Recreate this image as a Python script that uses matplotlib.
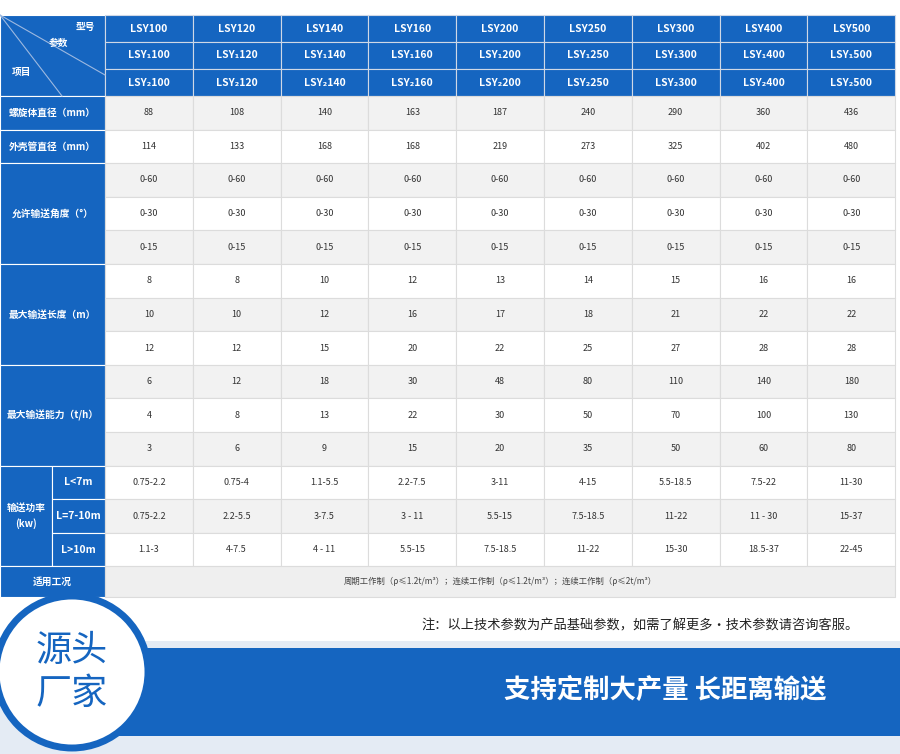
import matplotlib
matplotlib.use("Agg")
import matplotlib.pyplot as plt
from matplotlib.patches import Rectangle, Circle, Polygon

plt.rcParams['font.family'] = ['Noto Sans CJK SC', 'DejaVu Sans']

models = ["100", "120", "140", "160", "200", "250", "300", "400", "500"]
model_prefixes = ["LSY", "LSY₁", "LSY₂"]
screw_dia = ["88", "108", "140", "163", "187", "240", "290", "360", "436"]
shell_dia = ["114", "133", "168", "168", "219", "273", "325", "402", "480"]
angles = ["0-60", "0-30", "0-15"]
max_len = [["8", "8", "10", "12", "13", "14", "15", "16", "16"],
           ["10", "10", "12", "16", "17", "18", "21", "22", "22"],
           ["12", "12", "15", "20", "22", "25", "27", "28", "28"]]
capacity = [["6", "12", "18", "30", "48", "80", "110", "140", "180"],
            ["4", "8", "13", "22", "30", "50", "70", "100", "130"],
            ["3", "6", "9", "15", "20", "35", "50", "60", "80"]]
power_labels = ["L<7m", "L=7-10m", "L>10m"]
power = [["0.75-2.2", "0.75-4", "1.1-5.5", "2.2-7.5", "3-11", "4-15", "5.5-18.5", "7.5-22", "11-30"],
         ["0.75-2.2", "2.2-5.5", "3-7.5", "3 - 11", "5.5-15", "7.5-18.5", "11-22", "11 - 30", "15-37"],
         ["1.1-3", "4-7.5", "4 - 11", "5.5-15", "7.5-18.5", "11-22", "15-30", "18.5-37", "22-45"]]
row_labels = ["螺旋体直径（mm）", "外壳管直径（mm）", "允许输送角度（°）", "最大输送长度（m）", "最大输送能力（t/h）", "输送功率\n(kw)", "适用工况"]
footer = "周期工作制（ρ≤1.2t/m³）；连续工作制（ρ≤1.2t/m³）；连续工作制（ρ≤2t/m³）"
note = "注：以上技术参数为产品基础参数，如需了解更多・技术参数请咨询客服。"
banner = "支持定制大产量 长距离输送"
logo = "源头\n厂家"

W, H = 900, 754
fig = plt.figure(figsize=(9, 7.54), dpi=100)
ax = fig.add_axes([0, 0, 1, 1])
ax.set_xlim(0, W); ax.set_ylim(H, 0); ax.axis('off')

BLUE = "#1565c0"
GRID = "#dcdcdc"
x0, c0, cw = 0, 105, 87.8
top = 15
hh = 27
rh = 33.6

def rect(x, y, w, h, fc, ec="none", lw=0.8, z=1):
    ax.add_patch(Rectangle((x, y), w, h, facecolor=fc, edgecolor=ec, linewidth=lw, zorder=z))

def txt(x, y, s, c="#333", fs=6.5, bold=False, z=5, **kw):
    ax.text(x, y, s, color=c, fontsize=fs, ha='center', va='center',
            fontweight='bold' if bold else 'normal', zorder=z, **kw)

# header
rect(0, top, c0, 3 * hh, BLUE, "white")
for r in range(3):
    for j, m in enumerate(models):
        x = c0 + j * cw
        rect(x, top + r * hh, cw, hh, BLUE, "#cfd8e6")
        txt(x + cw / 2, top + r * hh + hh / 2, model_prefixes[r] + m, c="white", fs=7.5, bold=True)
ax.plot([0, c0], [top, top + hh * 2 + 6], color="#9db9e0", lw=0.8, zorder=3)
ax.plot([0, 62], [top, top + 3 * hh], color="#9db9e0", lw=0.8, zorder=3)
txt(85, top + 12, "型号", c="white", fs=7, bold=True)
txt(58, top + 28, "参数", c="white", fs=7, bold=True)
txt(22, top + 57, "项目", c="white", fs=7, bold=True)

# data rows
rows = [[screw_dia], [shell_dia], [[a] * 9 for a in angles], max_len, capacity, power]
y = top + 3 * hh
k = 0
for gi, g in enumerate(rows):
    n = len(g)
    if gi == 5:
        rect(0, y, 52, n * rh, BLUE, "white")
        txt(26, y + n * rh / 2, row_labels[gi], c="white", fs=7, bold=True, linespacing=1.6)
        for i in range(n):
            rect(52, y + i * rh, c0 - 52, rh, BLUE, "white")
            txt(52 + (c0 - 52) / 2, y + i * rh + rh / 2, power_labels[i], c="white", fs=7.5, bold=True)
    else:
        rect(0, y, c0, n * rh, BLUE, "white")
        txt(c0 / 2, y + n * rh / 2, row_labels[gi], c="white", fs=7, bold=True)
    for i in range(n):
        fc = "#f2f2f2" if k % 2 == 0 else "white"
        for j in range(9):
            x = c0 + j * cw
            rect(x, y, cw, rh, fc, GRID)
            txt(x + cw / 2, y + rh / 2, g[i][j], fs=6.5)
        y += rh
        k += 1
# footer row
rect(0, y, c0, 31, BLUE, "white")
txt(c0 / 2, y + 15.5, row_labels[6], c="white", fs=7, bold=True)
rect(c0, y, 9 * cw, 31, "#efefef", GRID)
txt(c0 + 4.5 * cw, y + 15.5, footer, fs=6, c="#444")

# bottom area
rect(0, 599, W, H - 599, "#e4ebf4")
rect(0, 599, W, 42, "white", z=1.5)
txt(640, 626, note, c="#222", fs=9.5)
ax.add_patch(Polygon([[120, 648], [W, 648], [W, 736], [60, 736]], closed=True,
                     facecolor=BLUE, edgecolor="none", zorder=2))
txt(665, 690, banner, c="white", fs=19, bold=True)
ax.add_patch(Circle((72, 672), 76, facecolor="white", edgecolor=BLUE, linewidth=5, zorder=3))
txt(72, 672, logo, c=BLUE, fs=26, linespacing=1.25)

fig.savefig("out.png", dpi=100)
